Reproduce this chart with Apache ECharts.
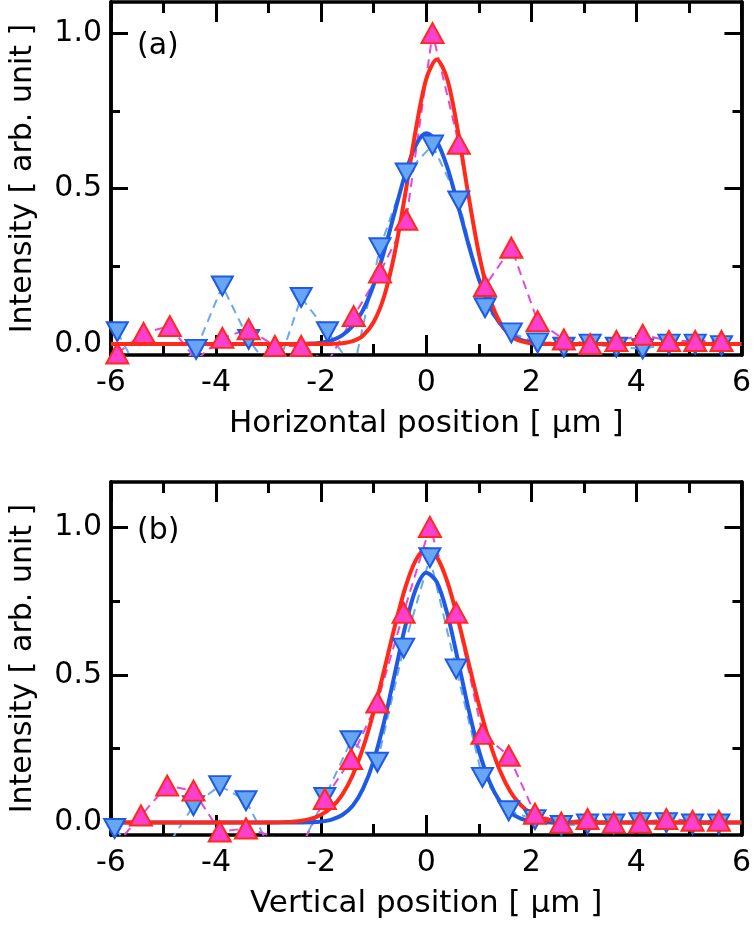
<!DOCTYPE html>
<html>
<head>
<meta charset="utf-8">
<script src="https://cdn.jsdelivr.net/npm/echarts@6/dist/echarts.min.js"></script>
<style>
html,body{margin:0;padding:0;background:#fff;}
#chart{width:754px;height:925px;}
</style>
</head>
<body>
<div id="chart"></div>
<script>
// ---------- data: panel (a) horizontal ----------
var xA = [-5.88,-5.38,-4.88,-4.38,-3.88,-3.38,-2.88,-2.38,-1.88,-1.38,-0.88,-0.38,0.12,0.62,1.12,1.62,2.12,2.62,3.12,3.62,4.12,4.62,5.12,5.62];
var redA = [-0.03,0.036,0.058,-0.05,0.02,0.048,-0.006,-0.006,-0.06,0.09,0.23,0.40,1.0,0.644,0.187,0.31,0.074,0.015,0.0,0.01,0.03,0.01,0.01,0.01];
var blueA = [0.04,-0.12,-0.10,-0.017,0.187,0.015,-0.10,0.15,0.04,-0.08,0.31,0.55,0.64,0.46,0.117,0.036,0.004,-0.01,0.0,-0.01,-0.015,0.0,0.0,-0.005];

// ---------- data: panel (b) vertical ----------
var xB = [-5.93,-5.43,-4.93,-4.43,-3.93,-3.43,-2.93,-2.43,-1.93,-1.43,-0.93,-0.43,0.07,0.57,1.07,1.57,2.07,2.57,3.07,3.57,4.07,4.57,5.07,5.57];
var redB = [-0.08,0.024,0.125,0.108,-0.03,-0.02,-0.045,-0.10,0.08,0.215,0.406,0.71,1.0,0.71,0.30,0.226,0.03,0.0,0.012,0.0,0.0,0.012,0.006,0.006];
var blueB = [-0.02,-0.12,-0.08,0.057,0.125,0.074,-0.10,-0.10,0.085,0.277,0.204,0.59,0.896,0.52,0.153,0.04,0.01,-0.01,-0.005,-0.005,0.0,0.0,-0.005,-0.005];

// ---------- fit curves ----------
var fitX = [-6,-3.0,-2.6,-2.4,-2.2,-2.0,-1.8,-1.6,-1.4,-1.2,-1.0,-0.8,-0.6,-0.4,-0.2,0,0.2,0.4,0.6,0.8,1.0,1.2,1.4,1.6,1.8,2.0,2.2,2.4,2.6,3.0,6];
var fitRedA = [0,0,0,0,0,0.0002,0.0007,0.0029,0.0096,0.028,0.071,0.154,0.293,0.482,0.688,0.852,0.915,0.852,0.688,0.482,0.293,0.154,0.071,0.028,0.0096,0.0029,0.0007,0.0002,0,0,0];
var fitBlueA = [0,0,0.0002,0.0005,0.0017,0.0047,0.012,0.028,0.058,0.110,0.191,0.299,0.424,0.547,0.639,0.678,0.652,0.569,0.450,0.323,0.210,0.124,0.067,0.032,0.014,0.0057,0.002,0.0007,0.0002,0,0];
var fitRedB = [0,0.0003,0.0024,0.0057,0.0127,0.0266,0.052,0.094,0.160,0.254,0.375,0.516,0.662,0.794,0.887,0.925,0.899,0.816,0.690,0.545,0.401,0.276,0.177,0.105,0.059,0.031,0.015,0.0067,0.0028,0.0004,0];
var fitBlueB = [0,0,0.0001,0.0004,0.0012,0.0037,0.0103,0.0257,0.057,0.116,0.209,0.342,0.502,0.663,0.789,0.845,0.814,0.707,0.552,0.388,0.245,0.140,0.072,0.033,0.0137,0.0051,0.0017,0.0005,0.0001,0,0];

// ---------- axis ticks ----------
var xMin = -6, xMax = 6, xStep = 2;
var yMajor = [0, 0.5, 1.0];
var yMinor = [0.25, 0.75];
var yRangeA = [-0.035, 1.1];
var yRangeB = [-0.042, 1.152];
var xNameA = 'Horizontal position [ μm ]';
var xNameB = 'Vertical position [ μm ]';
var yName = 'Intensity [ arb. unit ]';
var panelA = '(a)', panelB = '(b)';

function pairs(xs, ys){ return xs.map(function(x,i){ return [x, ys[i]]; }); }

var FONT = 'DejaVu Sans';
var LW = 3.5;
var lineStyleAxis = {color:'#000', width: LW};

function xAxes(grid, name){
  return [{
    gridIndex: grid, type:'value', min:xMin, max:xMax, interval:xStep, position:'bottom',
    axisLine:{show:true, onZero:false, lineStyle:lineStyleAxis},
    axisTick:{show:true, inside:true, length:20, lineStyle:{color:'#000', width:3}},
    minorTick:{show:true, splitNumber:2, length:11, lineStyle:{color:'#000', width:3}},
    splitLine:{show:false}, minorSplitLine:{show:false},
    axisLabel:{show:true, color:'#000', fontSize:30, fontFamily:FONT, margin:13},
    name:name, nameLocation:'middle', nameGap:53,
    nameTextStyle:{color:'#000', fontSize:31, fontFamily:FONT}
  },{
    gridIndex: grid, type:'value', min:xMin, max:xMax, interval:xStep, position:'top',
    axisLine:{show:true, onZero:false, lineStyle:lineStyleAxis},
    axisTick:{show:true, inside:true, length:20, lineStyle:{color:'#000', width:3}},
    minorTick:{show:true, splitNumber:2, length:11, lineStyle:{color:'#000', width:3}},
    splitLine:{show:false}, minorSplitLine:{show:false},
    axisLabel:{show:false}
  }];
}
function yAxes(grid, range){
  var base = {gridIndex:grid, type:'value', min:range[0], max:range[1], splitLine:{show:false}};
  function mk(pos, vals, len, label, nm){
    var o = Object.assign({}, base, {
      position:pos,
      axisLine:{show:true, onZero:false, lineStyle:lineStyleAxis},
      axisTick:{show:true, inside:true, length:len, customValues:vals, lineStyle:{color:'#000', width:3}},
      axisLabel:{show:label, customValues:vals, color:'#000', fontSize:30, fontFamily:FONT, margin:9,
        formatter:function(v){ return Number(v).toFixed(1); }}
    });
    if (nm) {
      o.name = nm; o.nameLocation='middle'; o.nameGap = 73; o.nameRotate = 90;
      o.nameTextStyle = {color:'#000', fontSize:30, fontFamily:FONT};
    }
    return o;
  }
  return [mk('left', yMajor, 17, true, yName), mk('left', yMinor, 9, false),
          mk('right', yMajor, 17, false), mk('right', yMinor, 9, false)];
}

var RED_LINE = '#ff2a1a', BLUE_LINE = '#1f5ae6';
var MAG_DASH = '#e448d8', LBLUE_DASH = '#6aa8f0';
var RED_FILL = '#ff40cc', BLUE_FILL = '#66a6f5';

function panelSeries(xi, yi, xs, red, blue, fr, fb){
  return [
    {type:'line', xAxisIndex:xi, yAxisIndex:yi, data:pairs(xs, blue), showSymbol:false, symbol:'none',
     lineStyle:{color:LBLUE_DASH, width:2, type:[9,6]}, z:2},
    {type:'line', xAxisIndex:xi, yAxisIndex:yi, data:pairs(xs, red), showSymbol:false, symbol:'none',
     lineStyle:{color:MAG_DASH, width:2, type:[9,6]}, z:2},
    {type:'line', xAxisIndex:xi, yAxisIndex:yi, data:pairs(fitX, fb), symbol:'none', smooth:0.3,
     lineStyle:{color:BLUE_LINE, width:4}, z:3},
    {type:'line', xAxisIndex:xi, yAxisIndex:yi, data:pairs(fitX, fr), symbol:'none', smooth:0.3,
     lineStyle:{color:RED_LINE, width:4}, z:3},
    {type:'scatter', xAxisIndex:xi, yAxisIndex:yi, data:pairs(xs, blue), symbol:'triangle', symbolRotate:180,
     symbolSize:[21,19], itemStyle:{color:BLUE_FILL, borderColor:BLUE_LINE, borderWidth:2, opacity:1}, z:4},
    {type:'scatter', xAxisIndex:xi, yAxisIndex:yi, data:pairs(xs, red), symbol:'triangle',
     symbolSize:[22,20], itemStyle:{color:RED_FILL, borderColor:RED_LINE, borderWidth:2, opacity:1}, z:5}
  ];
}

var option = {
  animation:false,
  backgroundColor:'#fff',
  grid:[
    {left:109, right:9, top:2, height:353},
    {left:109, right:9, top:482, height:353}
  ],
  xAxis: xAxes(0, xNameA).concat(xAxes(1, xNameB)),
  yAxis: yAxes(0, yRangeA).concat(yAxes(1, yRangeB)),
  series: panelSeries(0, 0, xA, redA, blueA, fitRedA, fitBlueA)
          .concat(panelSeries(2, 4, xB, redB, blueB, fitRedB, fitBlueB)),
  graphic:[
    {type:'text', left:137, top:31, style:{text:panelA, font:'30px "DejaVu Sans"', fill:'#000'}},
    {type:'text', left:137, top:516, style:{text:panelB, font:'30px "DejaVu Sans"', fill:'#000'}}
  ]
};

var chart = echarts.init(document.getElementById('chart'), null, {renderer:'canvas'});
chart.setOption(option);
</script>
</body>
</html>
